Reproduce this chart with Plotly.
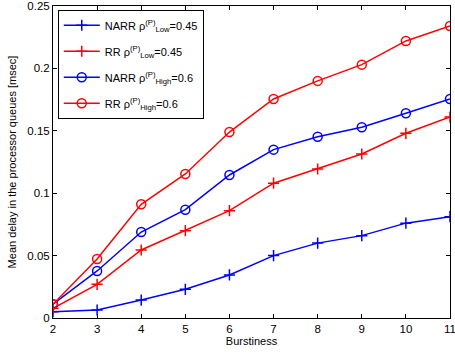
import plotly.graph_objects as go

burstiness = [2, 3, 4, 5, 6, 7, 8, 9, 10, 11]
narr_low = [0.005, 0.0064, 0.0144, 0.023, 0.0345, 0.050, 0.060, 0.066, 0.076, 0.0812]
rr_low = [0.0078, 0.027, 0.0545, 0.070, 0.086, 0.108, 0.1194, 0.1314, 0.148, 0.161]
narr_high = [0.011, 0.0377, 0.0689, 0.0868, 0.1146, 0.1349, 0.1453, 0.1528, 0.164, 0.1755]
rr_high = [0.011, 0.0473, 0.0911, 0.1154, 0.149, 0.1755, 0.190, 0.203, 0.222, 0.234]

series = [
    ("NARR ρ<sup>(P)</sup><sub>Low</sub>=0.45", narr_low, "blue", "cross-thin"),
    ("RR ρ<sup>(P)</sup><sub>Low</sub>=0.45", rr_low, "red", "cross-thin"),
    ("NARR ρ<sup>(P)</sup><sub>High</sub>=0.6", narr_high, "blue", "circle-open"),
    ("RR ρ<sup>(P)</sup><sub>High</sub>=0.6", rr_high, "red", "circle-open"),
]

fig = go.Figure()
for i, (name, vals, color, sym) in enumerate(series):
    fig.add_trace(go.Scatter(
        x=burstiness, y=vals, name=name, mode="lines+markers",
        legendgroup=f"g{i}",
        line=dict(color=color, width=1.5),
        marker=dict(symbol=sym, size=9 if sym == "circle-open" else 8,
                    color=color, line=dict(color=color, width=1.5)),
    ))

axis_common = dict(
    showline=True, linecolor="black", linewidth=1, mirror="ticks",
    ticks="inside", ticklen=4, tickcolor="black", showgrid=False, zeroline=False,
    tickfont=dict(family="Liberation Sans, Arial", size=11.5, color="black"),
    ticklabeloverflow="allow",
)

fig.update_layout(
    width=455, height=358,
    margin=dict(l=53, r=5, t=6, b=40),
    paper_bgcolor="white", plot_bgcolor="white",
    font=dict(family="Liberation Sans, Arial", size=11, color="black"),
    xaxis=dict(range=[2, 11], tickvals=burstiness,
               title=dict(text="Burstiness", font=dict(size=11), standoff=3),
               automargin=False, **axis_common),
    yaxis=dict(range=[0, 0.25], tickvals=[0, 0.05, 0.1, 0.15, 0.2, 0.25],
               ticktext=["0", "0.05", "0.1", "0.15", "0.2", "0.25"],
               title=dict(text="Mean delay in the processor queues [msec]", font=dict(size=11), standoff=8),
               automargin=False,
               **axis_common),
    legend=dict(x=0.012, y=0.988, xanchor="left", yanchor="top",
                bgcolor="white", bordercolor="black", borderwidth=1,
                font=dict(size=11), tracegroupgap=7, itemwidth=36),
    showlegend=True,
)

fig.write_html("out.html", config={"displayModeBar": False},
               post_script="document.body.style.margin='0';document.body.style.overflow='hidden';")
